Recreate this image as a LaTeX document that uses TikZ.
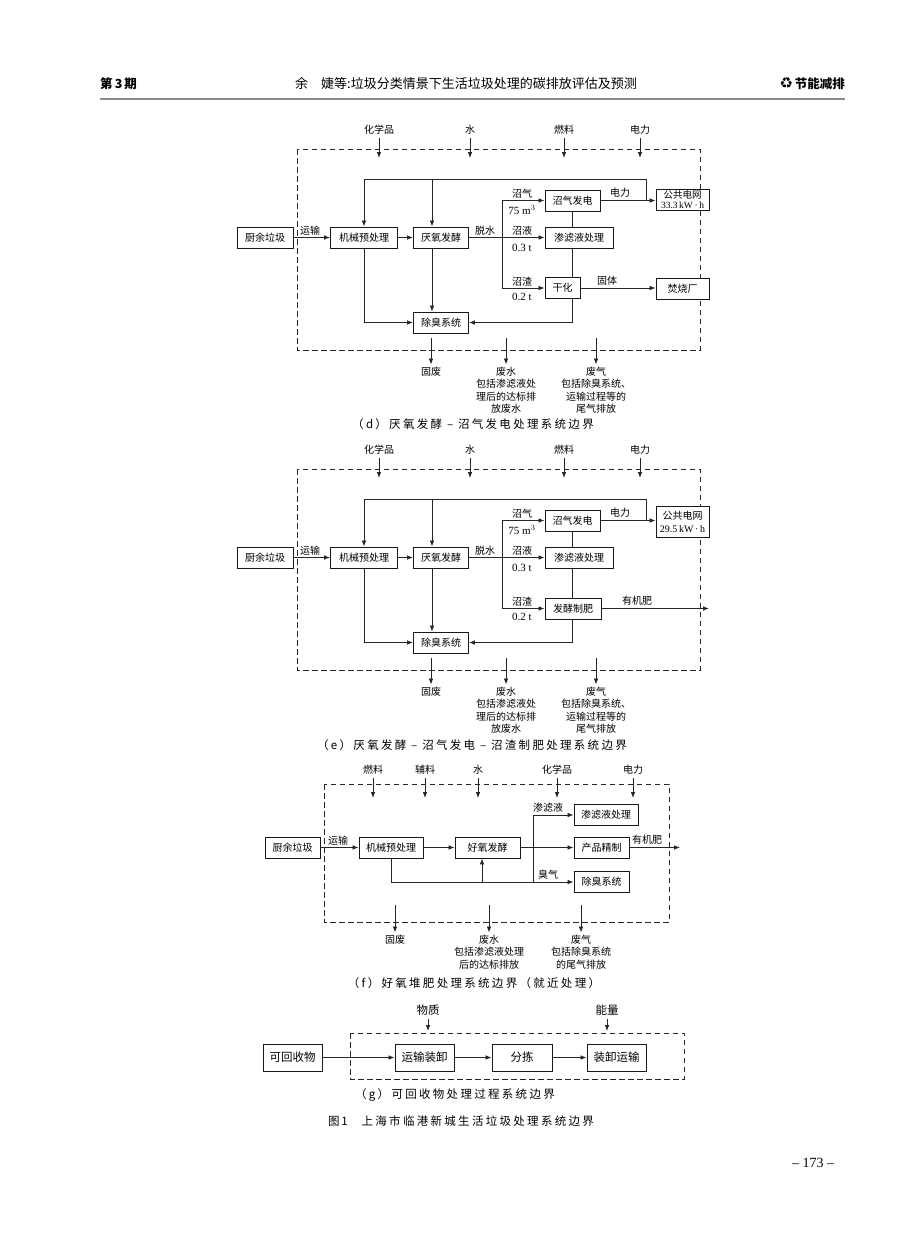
\documentclass[tikz,border=0pt]{standalone}
\usepackage{fontspec}
\setmainfont{Liberation Serif}
\newfontfamily\cjk{Noto Sans CJK SC}
\newfontfamily\cjkcap[LetterSpace=20]{Noto Sans CJK SC}
\newfontfamily\dejavu{DejaVu Sans}
\usetikzlibrary{arrows.meta}
\newcommand\inarrow[5]{\node[lbl] (#1) at (#2,#3) {#4}; \coordinate (#1e) at (#2,#5); \draw[arr, shorten <=2pt] (#1.south) -- (#1e);}
\newcommand\outarrow[5]{\coordinate (#1s) at (#2,#3); \node[lbl,anchor=north] (#1) at (#2,#4) {#5}; \draw[arr, shorten >=1.5pt] (#1s) -- (#1.north);}
\begin{document}
\begin{tikzpicture}[x=1pt,y=-1pt,
 box/.style={draw=black!90, line width=0.9pt, fill=white, minimum height=21pt, inner sep=1pt, font=\cjk\fontsize{10}{11}\selectfont},
 lbl/.style={inner sep=1pt, font=\cjk\fontsize{10}{12.3}\selectfont, align=center},
 num/.style={inner sep=1pt, font=\fontsize{11}{12}\selectfont},
 ln/.style={draw=black!85, line width=0.8pt},
 arr/.style={ln, -{Latex[length=6pt,width=4.6pt]}},
 bound/.style={draw=black!85, line width=0.9pt, dash pattern=on 5.5pt off 3.5pt},
 captxt/.style={inner sep=0pt, font=\cjkcap\fontsize{11.5}{13}\selectfont},
]
\path[use as bounding box, fill=white] (0,0) rectangle (920,1237);

% header
\node[font=\cjk\bfseries\fontsize{12.5}{14}\selectfont, anchor=west, inner sep=0pt] (h1) at (100,84) {第\,3\,期};
\node[font=\cjk\fontsize{13}{15}\selectfont, inner sep=0pt] (h2) at (466,84) {余\hspace{1em}婕等:垃圾分类情景下生活垃圾处理的碳排放评估及预测};
\node[anchor=east, inner sep=0pt] (h3) at (845,84) {{\dejavu\bfseries\fontsize{15}{15}\selectfont ♻}\,{\cjk\bfseries\fontsize{12.5}{14}\selectfont 节能减排}};
\coordinate (hl1) at (100,99); \coordinate (hl2) at (845,99);
\draw[line width=1.8pt, black!45] (hl1) -- (hl2);

% ================= (d)
\draw[bound] (297,149) rectangle (700,350);
\inarrow{dc}{379}{130}{化学品}{158}
\inarrow{dw}{470}{130}{水}{158}
\inarrow{df}{564}{130}{燃料}{158}
\inarrow{de}{640}{130}{电力}{158}

\node[box,minimum width=56] (d1) at (265,237.5) {厨余垃圾};
\node[box,minimum width=67] (d2) at (364,237.5) {机械预处理};
\node[box,minimum width=55] (d3) at (441,237.5) {厌氧发酵};
\node[box,minimum width=55] (d4) at (441,322.5) {除臭系统};
\node[box,minimum width=55] (d5) at (572.5,200.5) {沼气发电};
\node[box,minimum width=68] (d6) at (579,237.5) {渗滤液处理};
\node[box,minimum width=35] (d7) at (562.5,288) {干化};
\node[box,minimum width=53,align=center,font=\cjk\fontsize{9.5}{10}\selectfont,inner sep=0.5pt] (d8) at (682.5,200) {公共电网\\{\rmfamily 33.3\,kW\,·\,h}};
\node[box,minimum width=53] (d9) at (682.5,288.5) {焚烧厂};

\draw[arr] (d1) -- (d2);
\draw[arr] (d2) -- (d3);
\draw[arr] (d3) -- (d6);
\coordinate (dj) at (502,237.5);
\draw[arr] (dj) |- (d5.west);
\draw[arr] (dj) |- (d7.west);
\draw[ln] (d5.south) -- (d5.south |- d6.north);
\draw[ln] (d5.south |- d6.south) -- (d5.south |- d7.north);
\draw[arr] (d5.south |- d7.south) |- (d4.east);
\draw[arr] (d5.east) -- (d8.west |- d5.east);
\draw[arr] (d7.east) -- (d9.west |- d7.east);
\coordinate (dt) at (646,200.5);
\coordinate (dtl) at (364,179);
\coordinate (dtm) at (432,179);
\draw[ln] (dt) |- (dtl);
\draw[arr] (dtl) -- (d2.north);
\draw[arr] (dtm) -- (dtm |- d3.north);
\draw[arr] (dtm |- d3.south) -- (dtm |- d4.north);
\draw[arr] (d2.south) |- (d4.west);

\node[lbl] (dl1) at (310,231) {运输};
\node[lbl] (dl2) at (485,230.5) {脱水};
\node[lbl] (dl3) at (522,193.5) {沼气};
\node[num] (dl4) at (522,210) {75 m$^{3}$};
\node[lbl] (dl5) at (522,230.5) {沼液};
\node[num] (dl6) at (522,247.5) {0.3 t};
\node[lbl] (dl7) at (522,282) {沼渣};
\node[num] (dl8) at (522,297) {0.2 t};
\node[lbl] (dl9) at (620,192.5) {电力};
\node[lbl] (dl10) at (607,281) {固体};

\outarrow{dg}{431}{338}{366}{固废}
\outarrow{dww}{506}{338}{366}{废水\\包括渗滤液处\\理后的达标排\\放废水}
\outarrow{dgas}{596}{338}{366}{废气\\包括除臭系统、\\运输过程等的\\尾气排放}
\node[captxt] (dcap) at (473,424) {（d）厌氧发酵 – 沼气发电处理系统边界};

% ================= (e)
\draw[bound] (297,469) rectangle (700,670);
\inarrow{ec}{379}{450}{化学品}{478}
\inarrow{ew}{470}{450}{水}{478}
\inarrow{ef}{564}{450}{燃料}{478}
\inarrow{ee}{640}{450}{电力}{478}

\node[box,minimum width=56] (e1) at (265,557.5) {厨余垃圾};
\node[box,minimum width=67] (e2) at (364,557.5) {机械预处理};
\node[box,minimum width=55] (e3) at (441,557.5) {厌氧发酵};
\node[box,minimum width=55] (e4) at (441,642.5) {除臭系统};
\node[box,minimum width=55] (e5) at (572.5,520.5) {沼气发电};
\node[box,minimum width=68] (e6) at (579,557.5) {渗滤液处理};
\node[box,minimum width=56] (e7) at (573,608.5) {发酵制肥};
\node[box,minimum width=53,minimum height=31,align=center,font=\cjk\fontsize{10}{13}\selectfont] (e8) at (682.5,521.5) {公共电网\\{\rmfamily 29.5\,kW\,·\,h}};

\draw[arr] (e1) -- (e2);
\draw[arr] (e2) -- (e3);
\draw[arr] (e3) -- (e6);
\coordinate (ej) at (502,557.5);
\draw[arr] (ej) |- (e5.west);
\draw[arr] (ej) |- (e7.west);
\draw[ln] (e5.south) -- (e5.south |- e6.north);
\draw[ln] (e5.south |- e6.south) -- (e5.south |- e7.north);
\draw[arr] (e5.south |- e7.south) |- (e4.east);
\draw[arr] (e5.east) -- (e8.west |- e5.east);
\coordinate (eo) at (709,608.5);
\draw[arr] (e7.east) -- (eo);
\coordinate (et) at (646,520.5);
\coordinate (etl) at (364,499);
\coordinate (etm) at (432,499);
\draw[ln] (et) |- (etl);
\draw[arr] (etl) -- (e2.north);
\draw[arr] (etm) -- (etm |- e3.north);
\draw[arr] (etm |- e3.south) -- (etm |- e4.north);
\draw[arr] (e2.south) |- (e4.west);

\node[lbl] (el1) at (310,551) {运输};
\node[lbl] (el2) at (485,550.5) {脱水};
\node[lbl] (el3) at (522,513.5) {沼气};
\node[num] (el4) at (522,530) {75 m$^{3}$};
\node[lbl] (el5) at (522,550.5) {沼液};
\node[num] (el6) at (522,567.5) {0.3 t};
\node[lbl] (el7) at (522,602) {沼渣};
\node[num] (el8) at (522,617) {0.2 t};
\node[lbl] (el9) at (620,512.5) {电力};
\node[lbl] (el10) at (637,601) {有机肥};

\outarrow{eg}{431}{658}{686}{固废}
\outarrow{eww}{506}{658}{686}{废水\\包括渗滤液处\\理后的达标排\\放废水}
\outarrow{egas}{596}{658}{686}{废气\\包括除臭系统、\\运输过程等的\\尾气排放}
\node[captxt] (ecap) at (472,745) {（e）厌氧发酵 – 沼气发电 – 沼渣制肥处理系统边界};

% ================= (f)
\draw[bound] (324,784) rectangle (669,922);
\inarrow{ff}{373}{770}{燃料}{798}
\inarrow{fa}{425}{770}{辅料}{798}
\inarrow{fw}{478}{770}{水}{798}
\inarrow{fc}{557}{770}{化学品}{798}
\inarrow{fe}{633}{770}{电力}{798}

\node[box,minimum width=55] (f1) at (292.5,847.5) {厨余垃圾};
\node[box,minimum width=64] (f2) at (391,847.5) {机械预处理};
\node[box,minimum width=65] (f3) at (487.5,847.5) {好氧发酵};
\node[box,minimum width=64] (f4) at (606,815) {渗滤液处理};
\node[box,minimum width=55] (f5) at (601.5,847.5) {产品精制};
\node[box,minimum width=55] (f6) at (601.5,882) {除臭系统};

\draw[arr] (f1) -- (f2);
\draw[arr] (f2) -- (f3);
\draw[arr] (f3) -- (f5);
\draw[arr] (f2.south) |- (f6.west);
\coordinate (fj1) at (482,882);
\draw[arr] (fj1) -- (fj1 |- f3.south);
\coordinate (fj2) at (533,882);
\draw[arr] (fj2) |- (f4.west);
\coordinate (fo) at (680,847.5);
\draw[arr] (f5.east) -- (fo);

\node[lbl] (fl1) at (338,841) {运输};
\node[lbl] (fl2) at (548,807.5) {渗滤液};
\node[lbl] (fl3) at (548,875) {臭气};
\node[lbl] (fl4) at (647,840) {有机肥};

\outarrow{fg}{395}{905}{934}{固废}
\outarrow{fww}{489}{905}{934}{废水\\包括渗滤液处理\\后的达标排放}
\outarrow{fgas}{581}{905}{934}{废气\\包括除臭系统\\的尾气排放}
\node[captxt] (fcap) at (474,983) {（f）好氧堆肥处理系统边界（就近处理）};

% ================= (g)
\draw[bound] (350,1033) rectangle (684,1079);
\node[lbl,font=\cjk\fontsize{11.5}{13}\selectfont] (gm) at (428,1010) {物质};
\coordinate (gme) at (428,1031);
\draw[arr, shorten <=2pt] (gm.south) -- (gme);
\node[lbl,font=\cjk\fontsize{11.5}{13}\selectfont] (ge) at (607,1010) {能量};
\coordinate (gee) at (607,1031);
\draw[arr, shorten <=2pt] (ge.south) -- (gee);
\node[box,minimum width=59,minimum height=27,font=\cjk\fontsize{11.5}{13}\selectfont] (g1) at (292.5,1057.5) {可回收物};
\node[box,minimum width=59,minimum height=27,font=\cjk\fontsize{11.5}{13}\selectfont] (g2) at (424.5,1057.5) {运输装卸};
\node[box,minimum width=60,minimum height=27,font=\cjk\fontsize{11.5}{13}\selectfont] (g3) at (522,1057.5) {分拣};
\node[box,minimum width=59,minimum height=27,font=\cjk\fontsize{11.5}{13}\selectfont] (g4) at (616.5,1057.5) {装卸运输};
\draw[arr] (g1) -- (g2);
\draw[arr] (g2) -- (g3);
\draw[arr] (g3) -- (g4);
\node[captxt] (gcap) at (455,1095) {（g）可回收物处理过程系统边界};
\node[captxt] (fig) at (461,1121) {图\,1\hspace{1.2em}上海市临港新城生活垃圾处理系统边界};

\node[font=\fontsize{14}{16}\selectfont] (pg) at (813,1163) {– 173 –};
\end{tikzpicture}
\end{document}
